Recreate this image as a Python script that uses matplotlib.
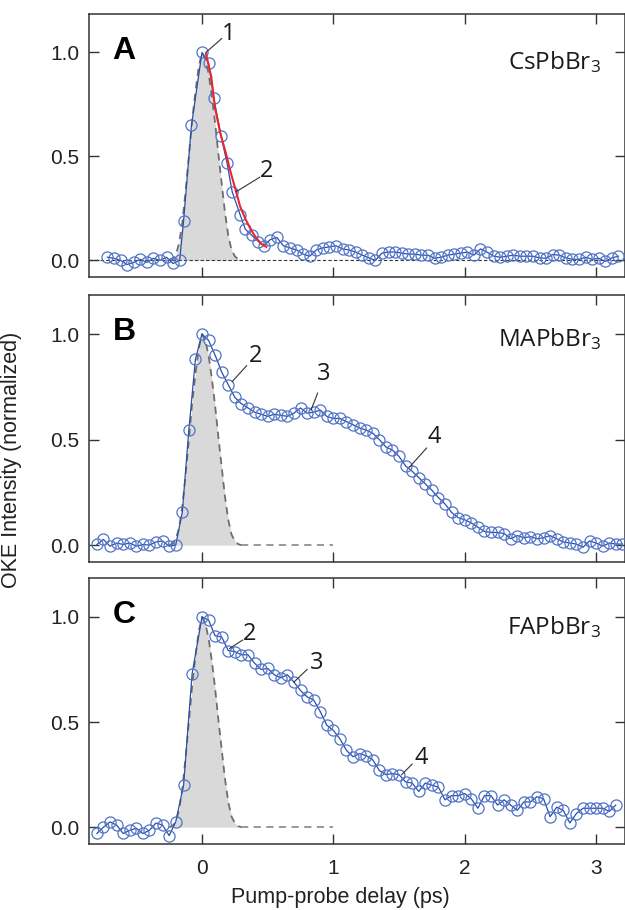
import numpy as np
import matplotlib
matplotlib.use("Agg")
from matplotlib import pyplot as plt

plt.rcParams['font.family'] = ['Liberation Sans', 'DejaVu Sans']
plt.rcParams['mathtext.default'] = 'regular'

# ---- data (delay in ps, normalized OKE intensity) ----
a_delay = np.concatenate([np.arange(-0.72, -0.16, 0.05),
                          [-0.14, -0.08, 0.0, 0.05, 0.09, 0.145, 0.19, 0.23, 0.29, 0.33, 0.38, 0.43, 0.47],
                          np.arange(0.52, 3.2, 0.05)])
a_signal = [0.015, 0.01, 0.0, -0.02, -0.01, 0.005, -0.01, 0.01, 0.0, 0.015, -0.015, 0.0,
            0.19, 0.65, 1.0, 0.95, 0.78, 0.60, 0.47, 0.33, 0.22, 0.15, 0.12, 0.09, 0.07,
            0.10, 0.11, 0.07, 0.06, 0.05, 0.03, 0.02, 0.05, 0.06, 0.065,
            0.07, 0.055, 0.05, 0.04, 0.025, 0.012, 0.0, 0.035, 0.04, 0.04,
            0.035, 0.03, 0.03, 0.025, 0.025, 0.01, 0.015, 0.025, 0.03, 0.035,
            0.04, 0.025, 0.055, 0.04, 0.02, 0.015, 0.02, 0.025, 0.02, 0.02,
            0.02, 0.012, 0.01, 0.028, 0.025, 0.012, 0.005, 0.005, 0.015, 0.005,
            0.01, -0.005, 0.012, 0.02]

fit_delay = [0.03, 0.07, 0.10, 0.14, 0.18, 0.22, 0.26, 0.29, 0.33, 0.37, 0.41, 0.45, 0.49]
fit_signal = [0.995, 0.885, 0.73, 0.61, 0.52, 0.42, 0.33, 0.26, 0.20, 0.15, 0.11, 0.08, 0.065]

b_delay = np.arange(-0.8, 3.21, 0.05)
b_signal = [0.003, 0.027, -0.005, 0.01, 0.003, 0.01, -0.005, 0.003, 0.0, 0.015, 0.02, -0.005, 0.0,
            0.155, 0.545, 0.88, 1.0, 0.97, 0.90, 0.82, 0.76, 0.70, 0.67, 0.65, 0.63,
            0.62, 0.61, 0.62, 0.615, 0.61, 0.625, 0.65, 0.625, 0.63, 0.64, 0.61,
            0.60, 0.60, 0.585, 0.57, 0.555, 0.545, 0.53, 0.50, 0.465, 0.45,
            0.42, 0.375, 0.35, 0.32, 0.29, 0.26, 0.225, 0.195, 0.155, 0.13,
            0.12, 0.105, 0.085, 0.065, 0.06, 0.06, 0.055, 0.03, 0.045, 0.035,
            0.04, 0.03, 0.035, 0.045, 0.03, 0.015, 0.01, 0.005, -0.01, 0.02,
            0.01, -0.005, 0.01, 0.005, 0.005]

c_delay = np.concatenate([np.arange(-0.8, -0.19, 0.05), [-0.14, -0.075], np.arange(0.0, 3.16, 0.05)])
c_signal = [-0.03, 0.0, 0.025, 0.01, -0.03, -0.015, -0.005, -0.03, -0.015, 0.02, 0.01, -0.04, 0.025,
            0.20, 0.73,
            1.0, 0.985, 0.91, 0.905, 0.84, 0.835, 0.82, 0.82, 0.78, 0.75,
            0.755, 0.725, 0.71, 0.725, 0.69, 0.65, 0.62, 0.605, 0.55, 0.485,
            0.46, 0.42, 0.365, 0.335, 0.35, 0.34, 0.32, 0.27, 0.25, 0.255,
            0.25, 0.215, 0.21, 0.17, 0.21, 0.20, 0.19, 0.13, 0.15, 0.15,
            0.16, 0.135, 0.09, 0.15, 0.15, 0.105, 0.13, 0.105, 0.08, 0.12,
            0.12, 0.145, 0.135, 0.05, 0.095, 0.08, 0.02, 0.065, 0.09, 0.09,
            0.09, 0.09, 0.075, 0.105]

# instrument response (shaded pulse)
irf_delay = [-0.25, -0.225, -0.2, -0.175, -0.15, -0.125, -0.1, -0.075, -0.05, -0.025, 0.0,
             0.025, 0.05, 0.075, 0.1, 0.125, 0.15, 0.175, 0.2, 0.225, 0.25, 0.275, 0.3]
irf_signal = [0.0, 0.005, 0.025, 0.08, 0.18, 0.33, 0.50, 0.67, 0.81, 0.93, 1.0,
              0.97, 0.90, 0.79, 0.66, 0.51, 0.37, 0.23, 0.12, 0.05, 0.02, 0.005, 0.0]

panel_letters = ['A', 'B', 'C']
compounds = ['CsPbBr$_3$', 'MAPbBr$_3$', 'FAPbBr$_3$']
compound_y = [0.955, 0.975, 0.95]

# (label, point on curve, leader end, text position)
notes = [
    [('1', (0.03, 1.0), (0.15, 1.067), (0.2, 1.09)),
     ('2', (0.26, 0.33), (0.44, 0.40), (0.49, 0.43))],
    [('2', (0.23, 0.775), (0.34, 0.85), (0.41, 0.895)),
     ('3', (0.83, 0.64), (0.88, 0.72), (0.93, 0.81)),
     ('4', (1.58, 0.37), (1.71, 0.46), (1.77, 0.51))],
    [('2', (0.21, 0.85), (0.31, 0.89), (0.36, 0.92)),
     ('3', (0.70, 0.69), (0.80, 0.75), (0.87, 0.78)),
     ('4', (1.52, 0.25), (1.60, 0.30), (1.67, 0.33))],
]

W, H = 625, 910
fig = plt.figure(figsize=(W / 100, H / 100), dpi=100)
boxes = [(14, 277), (295, 562), (578, 844)]
axes = [fig.add_axes([89 / W, 1 - b / H, 536 / W, (b - t) / H]) for t, b in boxes]

data = [(a_delay, a_signal), (b_delay, b_signal), (c_delay, c_signal)]
blue_line = '#2d4ea6'
blue_mark = '#5073c8'
gray_dash = '#6e6e6e'
label_font = ['Open Sans', 'DejaVu Sans']

for i, ax in enumerate(axes):
    delay, signal = data[i]
    ax.fill_between(irf_delay, irf_signal, color='#d9d9d9', lw=0, zorder=1)
    ax.plot(irf_delay, irf_signal, color=gray_dash, lw=1.3, dashes=(4, 3), zorder=2)
    if i == 0:
        ax.plot([-0.86, 3.22], [0, 0], color='#333333', lw=0.8, dashes=(3, 2), zorder=2)
    else:
        ax.plot([0.3, 1.0], [0, 0], color='#909090', lw=1.3, dashes=(4, 3), zorder=2)
    ax.plot(delay, signal, color=blue_line, lw=0.9, zorder=3)
    ax.plot(delay, signal, 'o', mfc='none', mec=blue_mark, ms=8, mew=0.9, zorder=4)
    if i == 0:
        ax.plot(fit_delay, fit_signal, color='#e8262e', lw=1.5, zorder=5)

    for lab, p0, p1, pt in notes[i]:
        ax.plot([p0[0], p1[0]], [p0[1], p1[1]], color='#333333', lw=0.8, zorder=6)
        ax.text(pt[0], pt[1], lab, fontsize=17, family=label_font,
                ha='center', va='center', color='#1a1a1a')

    ax.text(-0.68, 0.97, panel_letters[i], fontsize=23, fontweight='bold',
            ha='left', va='baseline', color='black')
    ax.text(3.04, compound_y[i], compounds[i], fontsize=17.5, family=label_font,
            ha='right', va='center', color='#1a1a1a')

    ax.set_xlim(-0.86, 3.22)
    ax.set_ylim(-0.08, 1.185)
    ax.set_xticks([0, 1, 2, 3])
    ax.set_yticks([0.0, 0.5, 1.0])
    ax.set_yticklabels(['0.0', '0.5', '1.0'])
    ax.tick_params(direction='in', top=True, right=True, length=7, width=1.0,
                   color='#333333', labelsize=15, labelcolor='#222222')
    ax.tick_params(axis='y', pad=7)
    ax.tick_params(axis='x', pad=11)
    if i < 2:
        ax.tick_params(labelbottom=False)
    for s in ax.spines.values():
        s.set_linewidth(1.1)
        s.set_color('#333333')

fig.text(12 / W, 1 - 460 / H, 'OKE Intensity (normalized)', rotation=90,
         ha='center', va='center', fontsize=15.5, color='#222222')
fig.text(340 / W, 1 - 897 / H, 'Pump-probe delay (ps)', ha='center', va='center',
         fontsize=15.5, color='#222222')

fig.savefig('out.png', dpi=100)
